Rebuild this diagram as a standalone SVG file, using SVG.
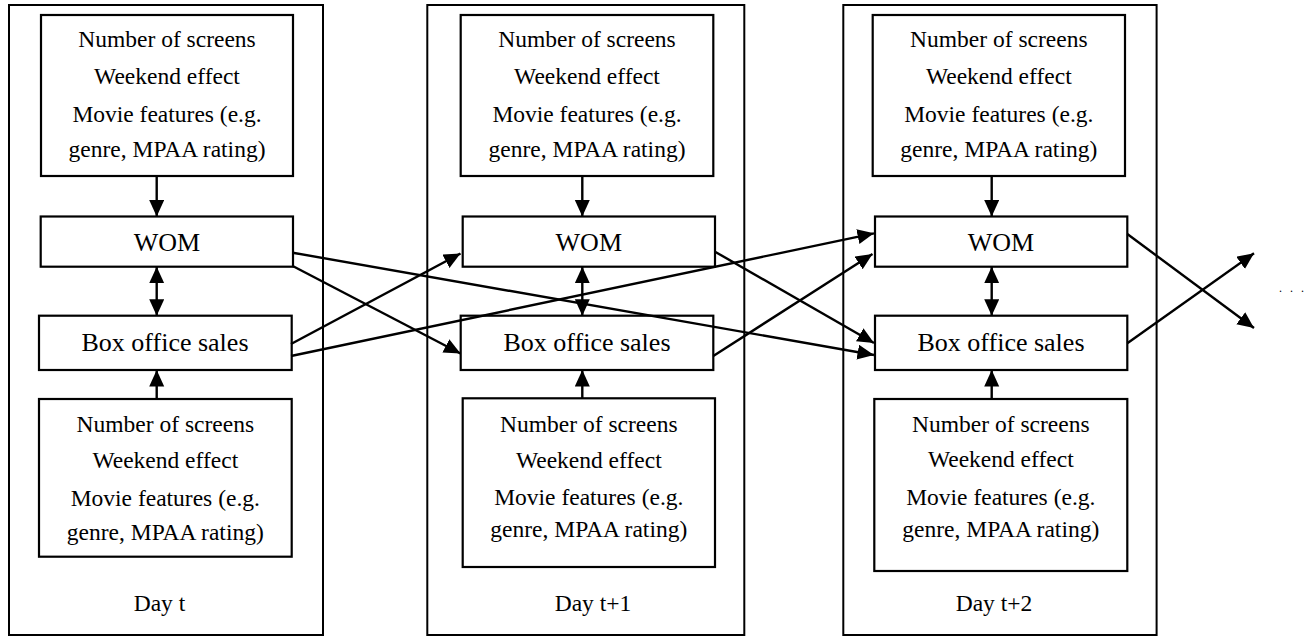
<svg xmlns="http://www.w3.org/2000/svg" width="1311" height="637" viewBox="0 0 1311 637">
<style>
.panel{fill:none;stroke:#000;stroke-width:2}
.box{fill:#fff;stroke:#000;stroke-width:2.2}
.t{font-family:"Liberation Serif","Times New Roman",serif;font-size:23.5px;fill:#000;text-anchor:middle}
.big{font-size:26px}
.conn line{stroke:#000;stroke-width:2.4;fill:none}
.a{marker-end:url(#ah)}
.d{marker-start:url(#ah);marker-end:url(#ah)}
</style>
<defs>
<marker id="ah" markerUnits="userSpaceOnUse" markerWidth="18" markerHeight="16" refX="16.5" refY="7.5" orient="auto-start-reverse">
<path d="M0,0 L16.5,7.5 L0,15 z" fill="#000"/>
</marker>
</defs>
<rect fill="#fff" x="0" y="0" width="1311" height="637"/>

<g id="panel1">
<rect class="panel" x="9" y="5" width="314" height="630"/>
<text class="t" x="159.5" y="611">Day t</text>
</g>
<g id="panel2">
<rect class="panel" x="427.3" y="5" width="317" height="630"/>
<text class="t" x="593" y="611">Day t+1</text>
</g>
<g id="panel3">
<rect class="panel" x="843.3" y="5" width="313.3" height="630"/>
<text class="t" x="994" y="611">Day t+2</text>
</g>

<g id="factors1-top">
<rect class="box" x="41" y="15" width="252" height="161"/>
<text class="t" x="167" y="46.7">Number of screens</text>
<text class="t" x="167" y="84">Weekend effect</text>
<text class="t" x="167" y="121.7">Movie features (e.g.</text>
<text class="t" x="167" y="156.7">genre, MPAA rating)</text>
</g>
<g id="wom1">
<rect class="box" x="40.7" y="216.5" width="252.3" height="50.2"/>
<text class="t big" x="167" y="251">WOM</text>
</g>
<g id="bo1">
<rect class="box" x="39" y="315.7" width="252.7" height="54.3"/>
<text class="t big" x="165" y="351">Box office sales</text>
</g>
<g id="factors1-bottom">
<rect class="box" x="39" y="399" width="252.7" height="157.7"/>
<text class="t" x="165.3" y="431.7">Number of screens</text>
<text class="t" x="165.3" y="468">Weekend effect</text>
<text class="t" x="165.3" y="506">Movie features (e.g.</text>
<text class="t" x="165.3" y="540">genre, MPAA rating)</text>
</g>

<g id="factors2-top">
<rect class="box" x="460.7" y="15" width="252.6" height="161"/>
<text class="t" x="587" y="46.7">Number of screens</text>
<text class="t" x="587" y="84">Weekend effect</text>
<text class="t" x="587" y="121.7">Movie features (e.g.</text>
<text class="t" x="587" y="156.7">genre, MPAA rating)</text>
</g>
<g id="wom2">
<rect class="box" x="462.7" y="216.5" width="252.3" height="50.2"/>
<text class="t big" x="588.8" y="251">WOM</text>
</g>
<g id="bo2">
<rect class="box" x="460.7" y="315.7" width="252.6" height="54.3"/>
<text class="t big" x="587" y="351">Box office sales</text>
</g>
<g id="factors2-bottom">
<rect class="box" x="462.7" y="398.3" width="252.3" height="168.7"/>
<text class="t" x="588.8" y="431.7">Number of screens</text>
<text class="t" x="588.8" y="467.5">Weekend effect</text>
<text class="t" x="588.8" y="505">Movie features (e.g.</text>
<text class="t" x="588.8" y="537">genre, MPAA rating)</text>
</g>

<g id="factors3-top">
<rect class="box" x="872.7" y="15" width="252.3" height="161"/>
<text class="t" x="998.8" y="46.7">Number of screens</text>
<text class="t" x="998.8" y="84">Weekend effect</text>
<text class="t" x="998.8" y="121.7">Movie features (e.g.</text>
<text class="t" x="998.8" y="156.7">genre, MPAA rating)</text>
</g>
<g id="wom3">
<rect class="box" x="875" y="216.5" width="252.3" height="50.2"/>
<text class="t big" x="1001" y="251">WOM</text>
</g>
<g id="bo3">
<rect class="box" x="875" y="315.7" width="252.3" height="54.3"/>
<text class="t big" x="1001" y="351">Box office sales</text>
</g>
<g id="factors3-bottom">
<rect class="box" x="874.3" y="399" width="253" height="172"/>
<text class="t" x="1000.8" y="431.7">Number of screens</text>
<text class="t" x="1000.8" y="467.3">Weekend effect</text>
<text class="t" x="1000.8" y="505">Movie features (e.g.</text>
<text class="t" x="1000.8" y="536.7">genre, MPAA rating)</text>
</g>

<g id="continuation">
<text x="1279" y="292" style="font-family:'Liberation Serif',serif;font-size:12px;letter-spacing:2.5px">. . .</text>
</g>

<g id="connectors" class="conn">
<line class="a" x1="156.7" y1="176" x2="156.7" y2="216.5"/>
<line class="d" x1="156.7" y1="266.7" x2="156.7" y2="315.7"/>
<line class="a" x1="156.7" y1="399" x2="156.7" y2="370"/>

<line class="a" x1="582.3" y1="176" x2="582.3" y2="216.5"/>
<line class="d" x1="582.3" y1="266.7" x2="582.3" y2="315.7"/>
<line class="a" x1="582.3" y1="398.3" x2="582.3" y2="370"/>

<line class="a" x1="991.7" y1="176" x2="991.7" y2="216.5"/>
<line class="d" x1="991.7" y1="266.7" x2="991.7" y2="315.7"/>
<line class="a" x1="991.7" y1="399" x2="991.7" y2="370"/>

<line class="a" x1="292.7" y1="266" x2="460.5" y2="353.5"/>
<line class="a" x1="292.7" y1="252.7" x2="874" y2="355"/>
<line class="a" x1="291" y1="344" x2="460.5" y2="253.5"/>
<line class="a" x1="291" y1="356" x2="874" y2="233.3"/>
<line class="a" x1="715" y1="251.7" x2="874" y2="343"/>
<line class="a" x1="713.3" y1="356" x2="872.5" y2="254"/>
<line class="a" x1="1127.3" y1="234" x2="1254" y2="328"/>
<line class="a" x1="1127.3" y1="343.3" x2="1254" y2="253.3"/>
</g>
</svg>
